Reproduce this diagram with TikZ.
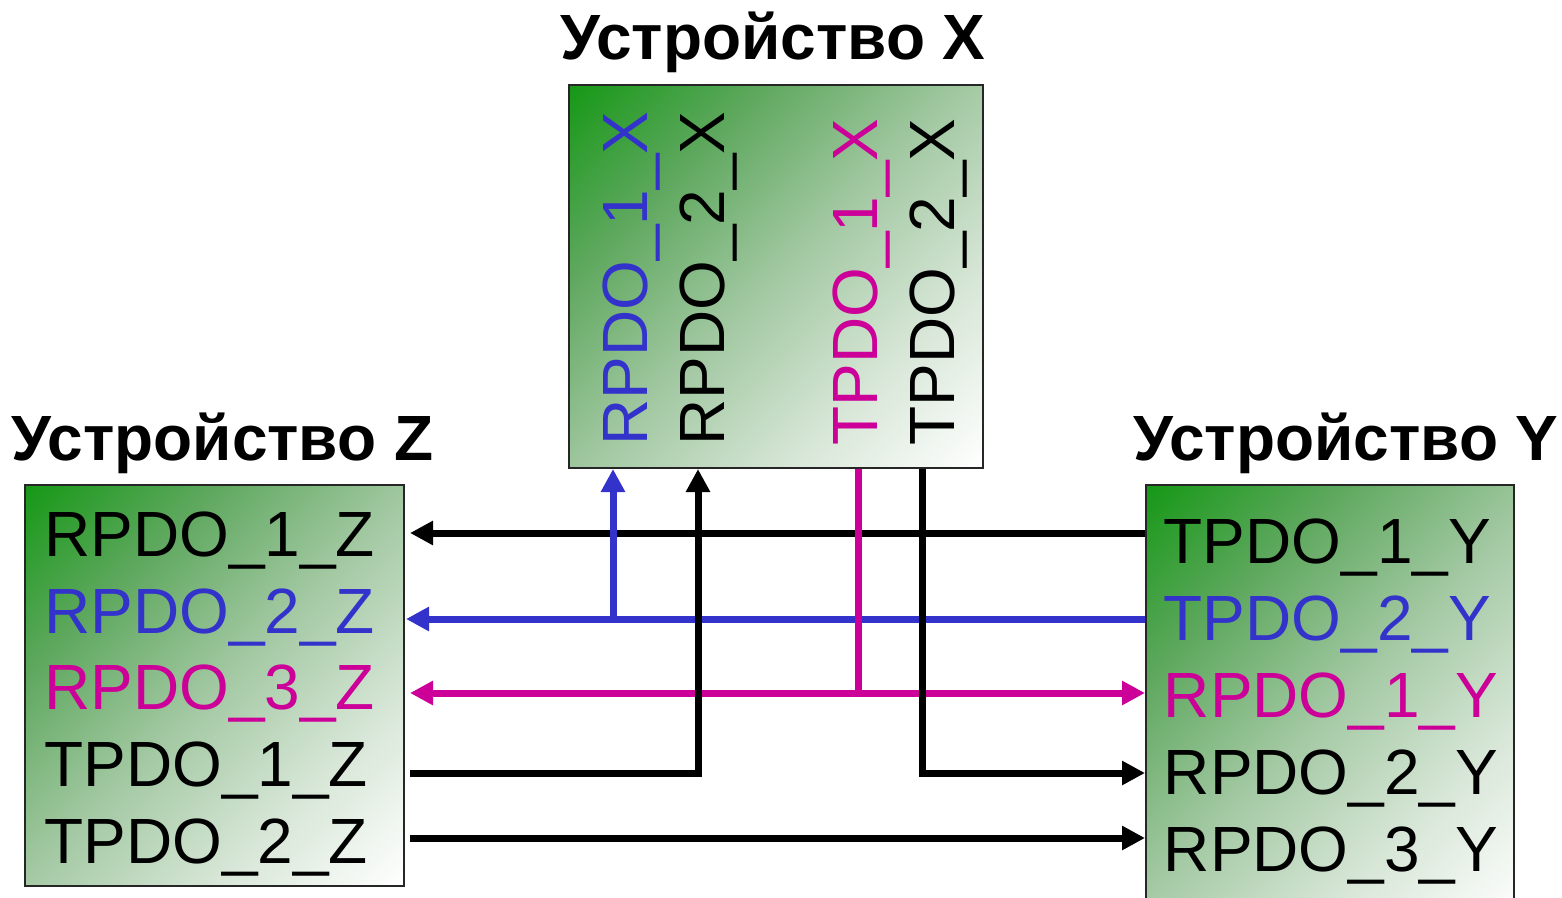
\documentclass[tikz,border=0pt]{standalone}
\usepackage{fontspec}
\setmainfont{Liberation Sans}
\usepackage{tikz}
\usetikzlibrary{arrows.meta}
\definecolor{devgreen}{RGB}{22,152,22}
\definecolor{devmidA}{RGB}{95,168,95}
\definecolor{devmidB}{RGB}{162,200,162}
\definecolor{devmidC}{RGB}{215,230,215}
\definecolor{pdoblue}{HTML}{3333CC}
\definecolor{pdomag}{HTML}{CC0099}
\pgfdeclareverticalshading{devshade}{100bp}{color(0bp)=(white); color(14.6bp)=(white);
  color(32bp)=(devmidC); color(50bp)=(devmidB); color(68bp)=(devmidA);
  color(85.4bp)=(devgreen); color(100bp)=(devgreen)}

\begin{document}
\begin{tikzpicture}[
      every node/.style={font=\fontsize{36.4}{40}\selectfont},
      dev/.style={draw=black!85, line width=0.04cm, inner sep=0,
                  shade, shading=devshade, shading angle=45},
      ttl/.style={font=\fontsize{36.4}{40}\selectfont\bfseries, anchor=base},
      pdo/.style={anchor=base west, inner sep=0},
      vpdo/.style={anchor=base west, inner sep=0, rotate=90},
      arr/.style={-{Triangle[length=0.46cm, width=0.46cm]}, line width=0.14cm},
      arrb/.style={{Triangle[length=0.46cm, width=0.46cm]}-{Triangle[length=0.46cm, width=0.46cm]}, line width=0.14cm},
      wire/.style={line width=0.14cm}
    ]
    \useasboundingbox (0,0) rectangle (31.24,17.94);
    \clip (0,0) rectangle (31.24,17.94);

    % devices
    \node[dev, minimum width=8.28cm, minimum height=7.66cm] (devX) at (15.52,12.41) {};
    \node[dev, minimum width=7.58cm, minimum height=8.02cm] (devZ) at (4.29,4.23) {};
    \node[dev, minimum width=7.36cm, minimum height=8.74cm] (devY) at (26.60,3.87) {};

    \node[ttl] (ttlX) at (15.46,16.74) {Устройство X};
    \node[ttl] (ttlZ) at (4.45,8.74) {Устройство Z};
    \node[ttl] (ttlY) at (26.92,8.74) {Устройство Y};

    % objects of X
    \node[vpdo, text=pdoblue] (tx1) at (12.94,9.02) {RPDO\_1\_X};
    \node[vpdo] (tx2) at (14.48,9.02) {RPDO\_2\_X};
    \node[vpdo, text=pdomag] (tx3) at (17.54,9.02) {TPDO\_1\_X};
    \node[vpdo] (tx4) at (19.08,9.02) {TPDO\_2\_X};

    % objects of Z
    \node[pdo] (rz1) at (0.88,6.82) {RPDO\_1\_Z};
    \node[pdo, text=pdoblue] (rz2) at (0.88,5.28) {RPDO\_2\_Z};
    \node[pdo, text=pdomag] (rz3) at (0.88,3.76) {RPDO\_3\_Z};
    \node[pdo] (rz4) at (0.88,2.22) {TPDO\_1\_Z};
    \node[pdo] (rz5) at (0.88,0.68) {TPDO\_2\_Z};

    % objects of Y
    \node[pdo] (ty1) at (23.27,6.68) {TPDO\_1\_Y};
    \node[pdo, text=pdoblue] (ty2) at (23.27,5.14) {TPDO\_2\_Y};
    \node[pdo, text=pdomag] (ty3) at (23.27,3.60) {RPDO\_1\_Y};
    \node[pdo] (ty4) at (23.27,2.06) {RPDO\_2\_Y};
    \node[pdo] (ty5) at (23.27,0.52) {RPDO\_3\_Y};

    % wire ends on the Z side and the vertical runs
    \coordinate (zA) at (8.20,7.28);
    \coordinate (zB) at (8.12,5.56);
    \coordinate (zC) at (8.20,4.08);
    \coordinate (zD) at (8.20,2.48);
    \coordinate (zE) at (8.20,1.18);
    \coordinate (xB) at (12.26,0);
    \coordinate (xK) at (13.96,0);
    \coordinate (xM) at (17.16,0);
    \coordinate (xT) at (18.44,0);

    \draw[arr] (devY.west |- zA) -- (zA);
    \draw[arr, pdoblue] (devY.west |- zB) -- (zB);
    \draw[arr, pdoblue] (zB -| xB) -- (devX.south -| xB);
    \draw[wire, pdomag] (devX.south -| xM) -- (zC -| xM);
    \draw[arrb, pdomag] (zC) -- (devY.west |- zC);
    \draw[arr] (zD) -| (devX.south -| xK);
    \draw[arr] (devX.south -| xT) |- (devY.west |- zD);
    \draw[arr] (zE) -- (devY.west |- zE);
  \end{tikzpicture}
\end{document}
